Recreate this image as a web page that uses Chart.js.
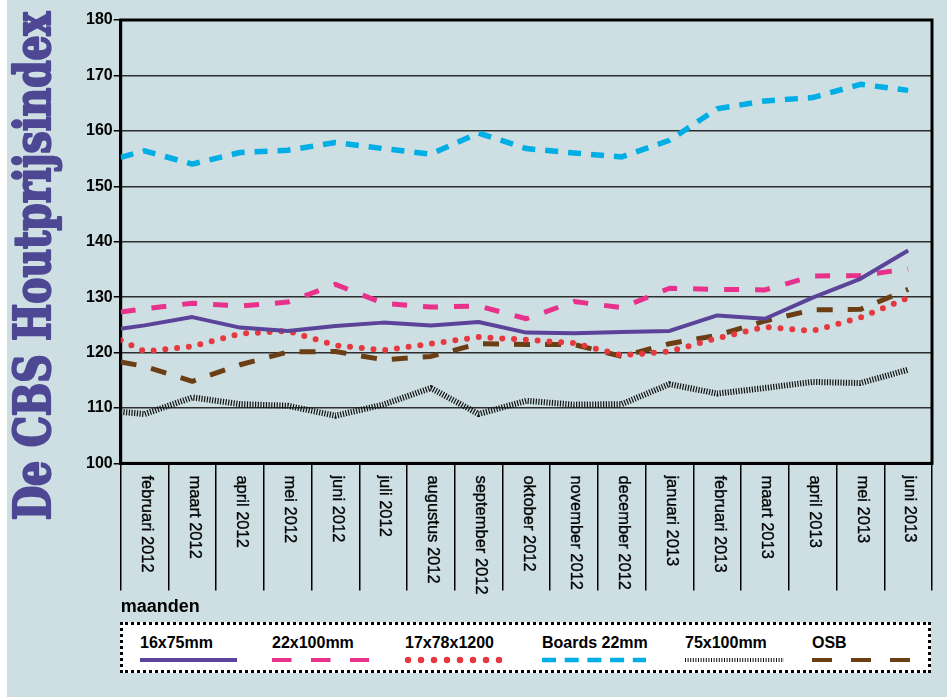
<!DOCTYPE html>
<html>
<head>
<meta charset="utf-8">
<script src="https://cdn.jsdelivr.net/npm/chart.js@4.4.1/dist/chart.umd.min.js"></script>
<style>
  html, body { margin: 0; padding: 0; }
  body {
    width: 947px; height: 697px; overflow: hidden; position: relative;
    background: linear-gradient(to right, #ffffff 0, #ffffff 7px, #cddfe3 7px);
    font-family: 'Liberation Sans', Arial, sans-serif;
  }
  #chart { position: absolute; left: 0; top: 0; }
  #legend {
    position: absolute; left: 120px; top: 622px; width: 805px; height: 45px;
    background: #fff; border: 3px dotted #000;
  }
  .item { position: absolute; top: 0; }
  .item span {
    position: absolute; top: 10px; left: 0; white-space: nowrap;
    font-weight: bold; font-size: 16px; line-height: 16px; color: #000;
  }
  .item canvas { position: absolute; top: 30px; left: 0; }
</style>
</head>
<body>
<canvas id="chart" width="947" height="697"></canvas>
<div id="legend"></div>
<script>
const title = 'De CBS Houtprijsindex';
const axisTitle = 'maanden';
const months = ['februari 2012', 'maart 2012', 'april 2012', 'mei 2012', 'juni 2012', 'juli 2012',
  'augustus 2012', 'september 2012', 'oktober 2012', 'november 2012', 'december 2012',
  'januari 2013', 'februari 2013', 'maart 2013', 'april 2013', 'mei 2013', 'juni 2013'];
const yTicks = [100, 110, 120, 130, 140, 150, 160, 170, 180];

// first value of each series = where the line enters at the left edge, then one per month
const s16x75 = [124.3, 124.9, 126.4, 124.5, 123.9, 124.8, 125.4, 124.9, 125.5, 123.6, 123.5, 123.7, 123.9, 126.7, 126.1, 129.9, 133.3, 138.4];
const s22x100 = [127.3, 127.9, 128.9, 128.4, 129.1, 132.3, 128.9, 128.2, 128.4, 126.1, 129.2, 128.1, 131.6, 131.4, 131.3, 133.8, 133.9, 135.1];
const s17x78 = [122.2, 120.2, 121.1, 123.4, 123.9, 121.3, 120.4, 121.6, 122.8, 122.3, 121.7, 119.5, 120.2, 122.6, 124.6, 123.9, 126.3, 129.9];
const sBoards = [155.2, 156.4, 154.0, 156.1, 156.5, 157.9, 156.8, 155.8, 159.6, 156.8, 156.0, 155.3, 158.3, 164.0, 165.4, 166.0, 168.4, 167.3];
const s75x100 = [109.3, 108.9, 111.9, 110.7, 110.4, 108.6, 110.6, 113.6, 108.9, 111.3, 110.6, 110.7, 114.3, 112.6, 113.6, 114.7, 114.5, 116.9];
const sOSB = [118.3, 117.5, 114.8, 117.8, 120.1, 120.2, 118.7, 119.3, 121.6, 121.45, 121.45, 119.3, 121.6, 123.1, 125.7, 127.7, 127.8, 131.4];

// x position of each value: left edge of the plot, then month index
const xPos = [-0.5].concat(months.map((m, i) => i));
const pts = vals => vals.map((v, i) => ({x: xPos[i], y: v}));

const series = [
  {label: '16x75mm', data: s16x75, color: '#5b4399', width: 4, dash: [], cap: 'butt',
    legend: {width: 4, dash: [], len: 97}},
  {label: '22x100mm', data: s22x100, color: '#e8318b', width: 5, dash: [15, 16], cap: 'butt',
    legend: {width: 4, dash: [19.5, 19.5], len: 97}},
  {label: '17x78x1200', data: s17x78, color: '#e6393f', width: 6, dash: [0, 11.8], cap: 'round',
    legend: {width: 6.5, dash: [0, 13], len: 97}},
  {label: 'Boards 22mm', data: sBoards, color: '#00aee6', width: 5.5, dash: [13, 10], cap: 'butt',
    legend: {width: 4.3, dash: [14, 8.7], len: 104}},
  {label: '75x100mm', data: s75x100, color: '#111111', width: 6, dash: [1.2, 1.5], cap: 'butt',
    legend: {width: 4, dash: [1, 1.6], len: 99}},
  {label: 'OSB', data: sOSB, color: '#6b3e14', width: 5, dash: [16, 15], cap: 'butt',
    legend: {width: 4, dash: [20, 19], len: 98}}
];
const legendLeft = [17, 149, 282, 419, 562, 689];

const font = "'Liberation Sans', Arial, sans-serif";
Chart.defaults.font.family = font;

const decor = {
  id: 'decor',
  beforeDatasetsDraw(chart) {
    const {ctx, chartArea: a} = chart;
    ctx.save();
    ctx.strokeStyle = '#000';
    ctx.lineWidth = 3;
    ctx.strokeRect(a.left, a.top, a.right - a.left, a.bottom - a.top);
    ctx.restore();
  },
  afterDraw(chart) {
    const {ctx, chartArea: a} = chart;
    const sc = chart.scales.months;
    ctx.save();
    ctx.fillStyle = '#000';
    ctx.strokeStyle = '#000';
    ctx.lineWidth = 0.35;
    ctx.font = '17px ' + font;
    ctx.textAlign = 'left';
    ctx.textBaseline = 'middle';
    months.forEach((m, i) => {
      ctx.save();
      ctx.translate(sc.getPixelForTick(i) + 2, a.bottom + 12);
      ctx.rotate(Math.PI / 2);
      ctx.scale(0.97, 1);
      ctx.fillText(m, 0, 0);
      ctx.strokeText(m, 0, 0);
      ctx.restore();
    });
    // vertical purple title
    ctx.font = "bold 50px 'DejaVu Serif Condensed', 'DejaVu Serif', serif";
    const w = ctx.measureText(title).width;
    ctx.translate(50, 520);
    ctx.rotate(-Math.PI / 2);
    ctx.scale(508 / w, 1);
    ctx.fillStyle = '#4e4894';
    ctx.strokeStyle = '#4e4894';
    ctx.lineWidth = 2.2;
    ctx.lineJoin = 'round';
    ctx.textAlign = 'left';
    ctx.textBaseline = 'alphabetic';
    ctx.fillText(title, 0, 0);
    ctx.strokeText(title, 0, 0);
    ctx.restore();
  }
};

new Chart(document.getElementById('chart'), {
  type: 'line',
  data: {
    datasets: series.map(s => ({
      label: s.label, data: pts(s.data), borderColor: s.color, backgroundColor: s.color,
      borderWidth: s.width, borderDash: s.dash, borderCapStyle: s.cap, borderJoinStyle: 'round',
      pointRadius: 0, tension: 0, fill: false, xAxisID: 'x'
    }))
  },
  options: {
    responsive: false,
    animation: false,
    layout: {padding: {left: 85, right: 15, top: 20, bottom: 79}},
    plugins: {legend: {display: false}, tooltip: {enabled: false}},
    scales: {
      x: {type: 'linear', min: -0.5, max: 16.5, display: false},
      months: {
        type: 'category', labels: months, position: 'bottom', offset: true,
        grid: {offset: true, drawOnChartArea: false, drawTicks: true, tickLength: 127, color: '#000', lineWidth: 1.5},
        border: {display: true, color: '#000', width: 3},
        ticks: {display: false},
        title: {display: true, text: axisTitle, align: 'start', color: '#000',
          font: {weight: 'bold', size: 18}, padding: {top: 6, bottom: 0}}
      },
      y: {
        min: yTicks[0], max: yTicks[yTicks.length - 1],
        afterBuildTicks: sc => { sc.ticks = yTicks.map(v => ({value: v})); },
        ticks: {color: '#000', font: {weight: 'bold', size: 16}, padding: 1},
        grid: {color: '#2e2e2e', lineWidth: 1.5, tickLength: 7, tickColor: '#000', tickWidth: 1.5},
        border: {color: '#000', width: 3}
      }
    }
  },
  plugins: [decor]
});

// legend: label above a drawn sample of each line style
const legendDiv = document.getElementById('legend');
series.forEach((s, i) => {
  const item = document.createElement('div');
  item.className = 'item';
  item.style.left = legendLeft[i] + 'px';
  const span = document.createElement('span');
  span.textContent = s.label;
  const cv = document.createElement('canvas');
  cv.width = s.legend.len + 4;
  cv.height = 10;
  item.appendChild(span);
  item.appendChild(cv);
  legendDiv.appendChild(item);
  const c = cv.getContext('2d');
  c.strokeStyle = s.color;
  c.lineWidth = s.legend.width;
  c.lineCap = s.cap;
  c.setLineDash(s.legend.dash);
  const x0 = s.cap === 'round' ? 3 : 0;
  c.beginPath();
  c.moveTo(x0, 5);
  c.lineTo(x0 + s.legend.len, 5);
  c.stroke();
});
</script>
</body>
</html>
